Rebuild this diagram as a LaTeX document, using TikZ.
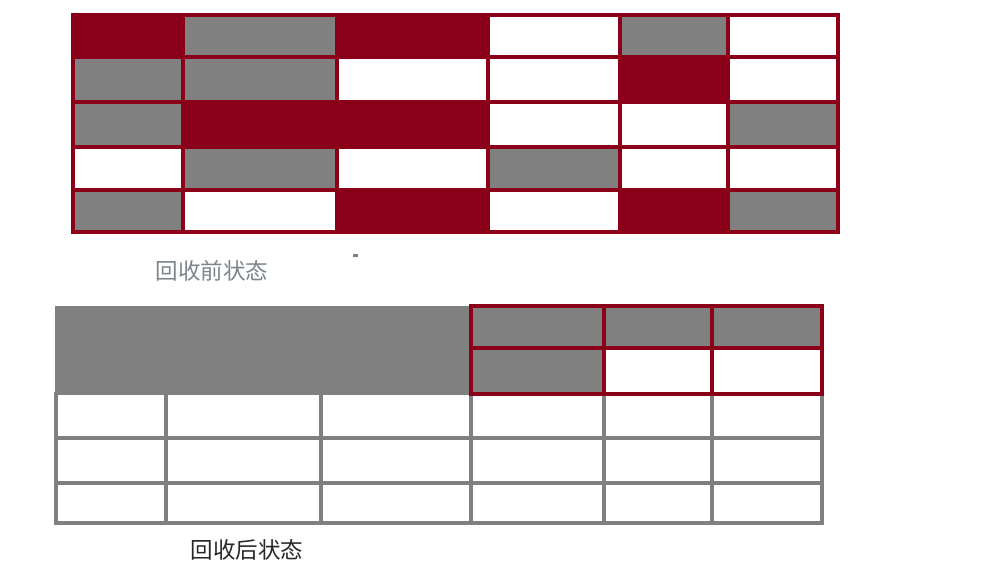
\documentclass[tikz,border=0pt]{standalone}
\usepackage{fontspec}
\newfontfamily\cjk{Noto Sans CJK SC}
\definecolor{cR}{RGB}{139,0,24}
\definecolor{cG}{RGB}{128,128,128}
\definecolor{cW}{RGB}{255,255,255}
\definecolor{lblA}{RGB}{125,132,142}
\definecolor{lblB}{RGB}{40,40,40}
\begin{document}
\begin{tikzpicture}[x=1pt,y=-1pt,
  redline/.style={draw=cR,line width=3.2pt,line cap=rect},
  grayline/.style={draw=cG,line width=3.2pt,line cap=rect},
  lab/.style={font=\cjk\fontsize{22.5}{22.5}\selectfont,inner sep=0pt}]
\clip (0,0) rectangle (994,563);
\fill[white] (0,0) rectangle (994,563);
% ---------- top grid (before) ----------
\foreach \row [count=\r from 0] in {{cR,cG,cR,cW,cG,cW},{cG,cG,cW,cW,cR,cW},{cG,cR,cR,cW,cW,cG},{cW,cG,cW,cG,cW,cW},{cG,cW,cR,cW,cR,cG}}{
  \foreach \c [count=\k from 0] in \row {
    \pgfmathsetmacro\xa{{73,183,337,488,620,728,838}[\k]}
    \pgfmathsetmacro\xb{{73,183,337,488,620,728,838}[\k+1]}
    \pgfmathsetmacro\ya{{15,57,102,147,190,232}[\r]}
    \pgfmathsetmacro\yb{{15,57,102,147,190,232}[\r+1]}
    \fill[\c] (\xa,\ya) rectangle (\xb,\yb);
  }
}
\foreach \x in {73,183,337,488,620,728,838} \draw[redline] (\x,15) -- (\x,232);
\foreach \y in {15,57,102,147,190,232} \draw[redline] (73,\y) -- (838,\y);
\node[lab,text=lblA] (before) at (212,271) {回收前状态};
\fill[cG] (353,254) rectangle (358,257);
% ---------- bottom grid (after) ----------
\fill[cG] (55,306) rectangle (471,395);
\fill[cG] (471,306) rectangle (822,348);
\fill[cG] (471,348) rectangle (604,394);
\foreach \x in {56,166,321,471,604,712,822} \draw[grayline] (\x,394) -- (\x,523);
\foreach \y in {438,483,523} \draw[grayline] (56,\y) -- (822,\y);
\foreach \x in {471,604,712,822} \draw[redline] (\x,306) -- (\x,394);
\foreach \y in {306,348,394} \draw[redline] (471,\y) -- (822,\y);
\node[lab,text=lblB] (after) at (247,550) {回收后状态};
\end{tikzpicture}
\end{document}
